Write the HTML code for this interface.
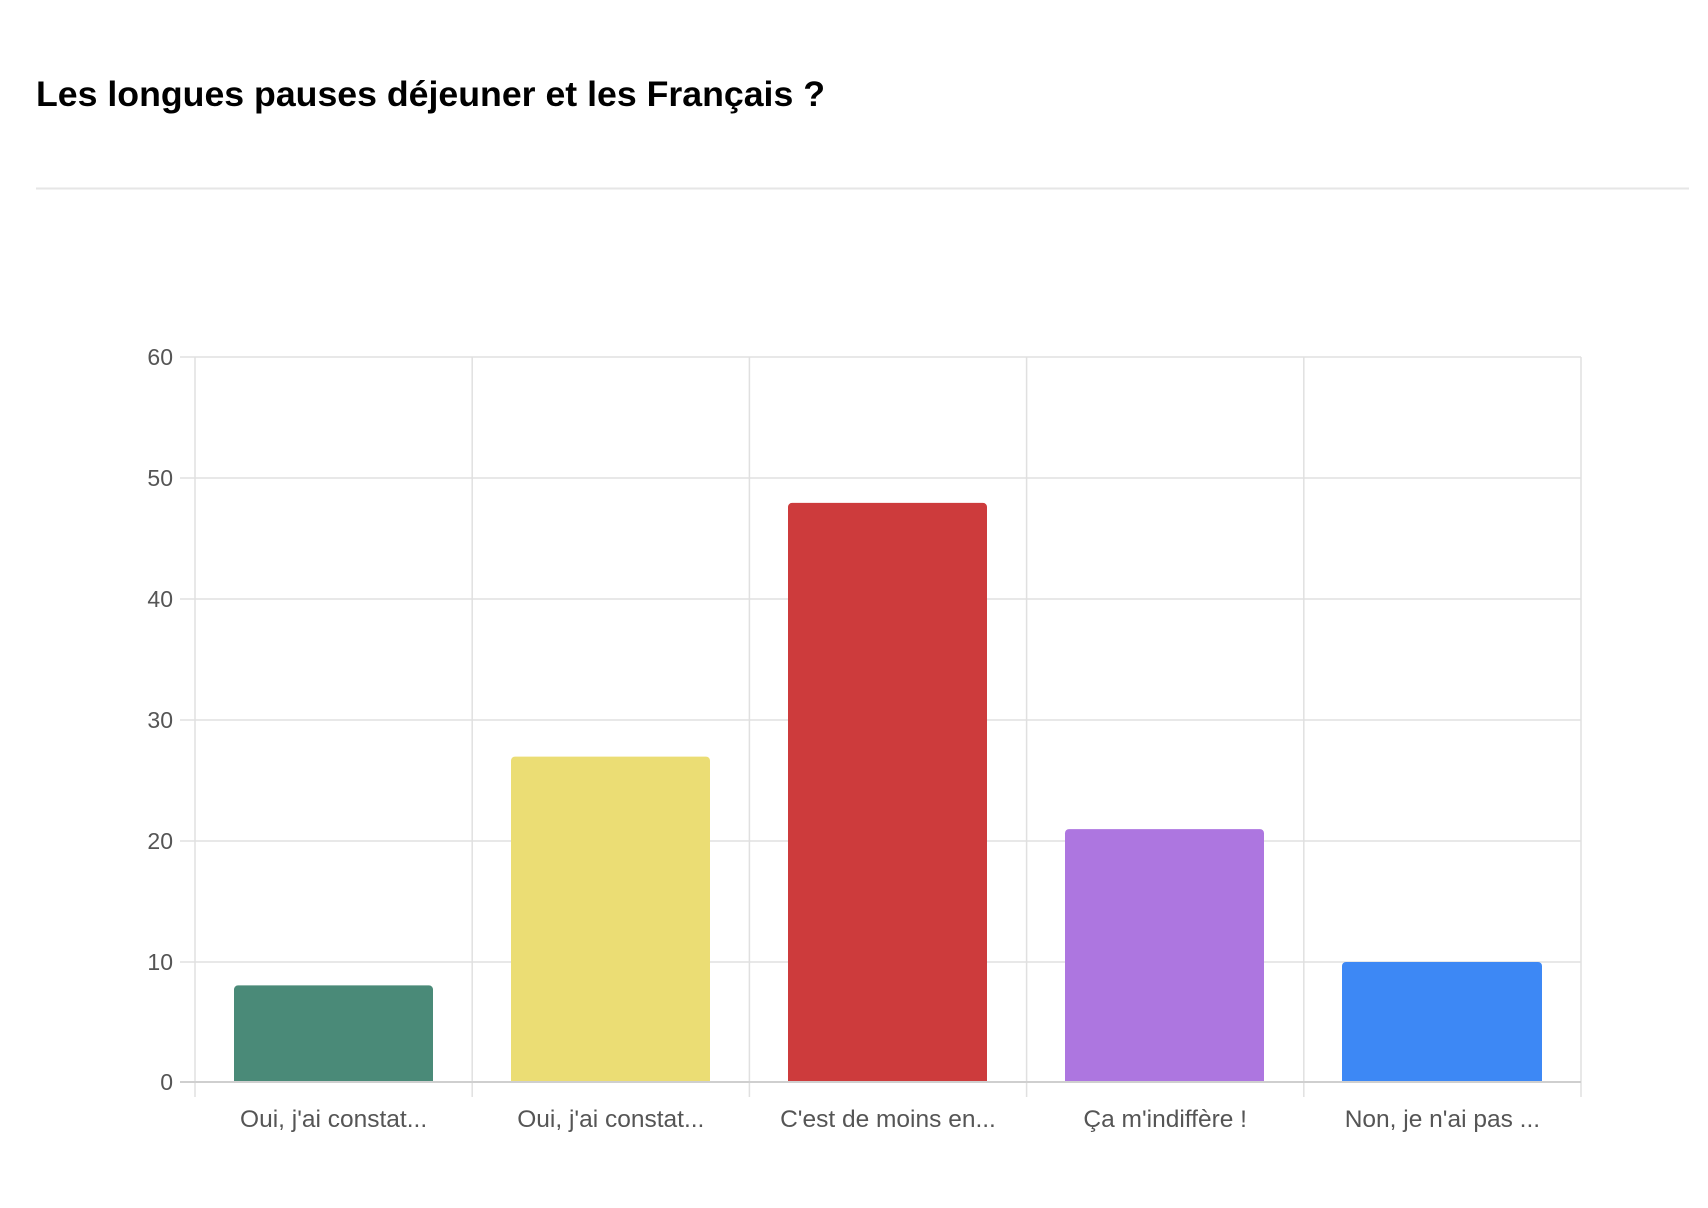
<!DOCTYPE html>
<html><head><meta charset="utf-8"><style>
html,body{margin:0;padding:0;background:#fff;width:1708px;height:1208px;overflow:hidden}
</style></head><body>
<svg width="1708" height="1208" xmlns="http://www.w3.org/2000/svg">
<text x="36" y="106" font-family="Liberation Sans, sans-serif" font-weight="bold" font-size="35" fill="#000" textLength="789" lengthAdjust="spacingAndGlyphs">Les longues pauses déjeuner et les Français ?</text>
<line x1="36" y1="188.5" x2="1689" y2="188.5" stroke="#e6e6e6" stroke-width="2"/>
<g stroke="#e0e0e0" stroke-width="1.5">
<line x1="180" y1="357" x2="1581" y2="357"/>
<line x1="180" y1="478" x2="1581" y2="478"/>
<line x1="180" y1="599" x2="1581" y2="599"/>
<line x1="180" y1="720" x2="1581" y2="720"/>
<line x1="180" y1="841" x2="1581" y2="841"/>
<line x1="180" y1="962" x2="1581" y2="962"/>
<line x1="195" y1="357" x2="195" y2="1097"/>
<line x1="472.2" y1="357" x2="472.2" y2="1097"/>
<line x1="749.4" y1="357" x2="749.4" y2="1097"/>
<line x1="1026.6" y1="357" x2="1026.6" y2="1097"/>
<line x1="1303.8" y1="357" x2="1303.8" y2="1097"/>
<line x1="1581" y1="357" x2="1581" y2="1097"/>
</g>
<g>
<path d="M234,1082 V989.4 a4,4 0 0 1 4,-4 H429 a4,4 0 0 1 4,4 V1082 Z" fill="#4a8a78"/>
<path d="M511,1082 V760.6 a4,4 0 0 1 4,-4 H706 a4,4 0 0 1 4,4 V1082 Z" fill="#ebdd74"/>
<path d="M788,1082 V506.9 a4,4 0 0 1 4,-4 H983 a4,4 0 0 1 4,4 V1082 Z" fill="#cd3b3c"/>
<path d="M1065,1082 V833.1 a4,4 0 0 1 4,-4 H1260 a4,4 0 0 1 4,4 V1082 Z" fill="#ad76e0"/>
<path d="M1342,1082 V966 a4,4 0 0 1 4,-4 H1538 a4,4 0 0 1 4,4 V1082 Z" fill="#3d88f5"/>
</g>
<line x1="180" y1="1082" x2="1581" y2="1082" stroke="#cfcfcf" stroke-width="2"/>
<g font-family="Liberation Sans, sans-serif" font-size="23" fill="#555" text-anchor="end">
<text x="173" y="365">60</text>
<text x="173" y="486">50</text>
<text x="173" y="607">40</text>
<text x="173" y="728">30</text>
<text x="173" y="849">20</text>
<text x="173" y="970">10</text>
<text x="173" y="1090">0</text>
</g>
<g font-family="Liberation Sans, sans-serif" font-size="24.5" fill="#555" text-anchor="middle">
<text x="333.6" y="1127">Oui, j'ai constat...</text>
<text x="610.8" y="1127">Oui, j'ai constat...</text>
<text x="888" y="1127">C'est de moins en...</text>
<text x="1165.2" y="1127">Ça m'indiffère !</text>
<text x="1442.4" y="1127">Non, je n'ai pas ...</text>
</g>
</svg>
</body></html>
